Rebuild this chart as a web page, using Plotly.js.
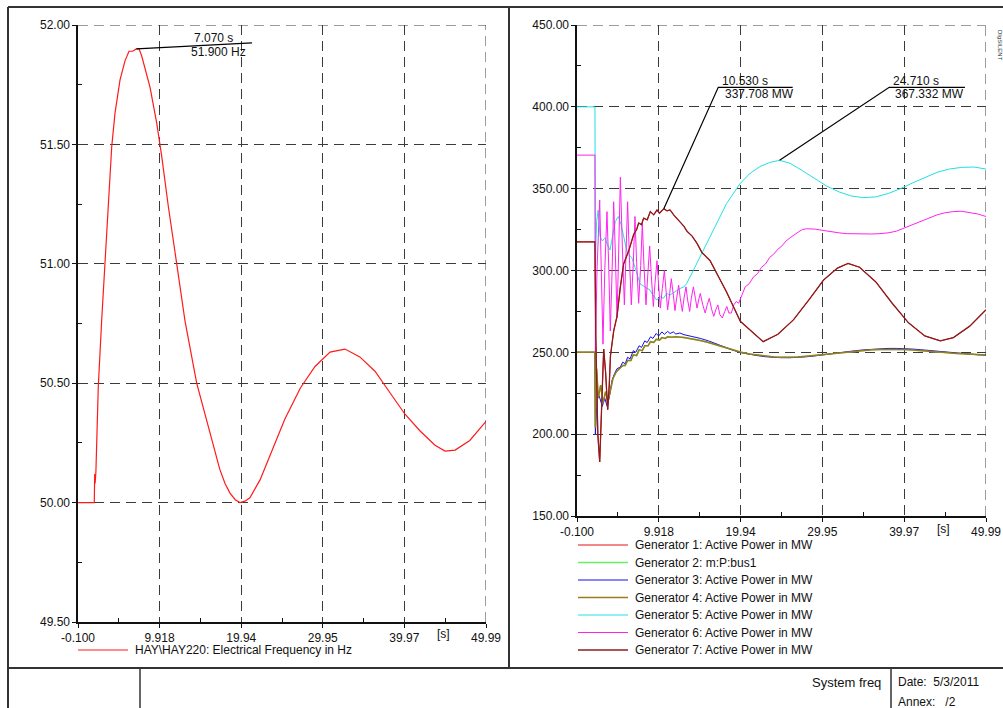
<!DOCTYPE html>
<html><head><meta charset="utf-8">
<script src="https://cdn.plot.ly/plotly-3.0.1.min.js"></script>
<style>html,body{margin:0;padding:0;background:#fff}#chart{width:1003px;height:708px}</style>
</head><body><div id="chart"></div>
<script>
// ---------------- DATA ----------------
const xTickVals = [-0.1, 9.918, 19.94, 29.95, 39.97, 49.99];
const xTickText = ["-0.100", "9.918", "19.94", "29.95", "39.97", "49.99"];
const xMinor = [4.909, 14.929, 24.945, 34.96, 44.98];
const fTickVals = [49.5, 50.0, 50.5, 51.0, 51.5, 52.0];
const fMinor = [49.75, 50.25, 50.75, 51.25, 51.75];
const pTickVals = [150, 200, 250, 300, 350, 400, 450];
const pMinor = [175, 225, 275, 325, 375, 425];

// Frequency (left)
const freqT = [-0.1, 1.9, 1.95, 2.0, 2.1, 2.39, 2.81, 3.21, 3.62, 4.04, 4.44, 5.06, 5.67, 6.16, 6.6, 7.07, 7.4, 7.72, 8.74, 9.56, 10.18, 10.99, 12.02, 13.04, 14.47, 15.49, 16.4, 17.3, 17.95, 18.56, 19.2, 19.79, 20.4, 21.0, 22.25, 23.47, 25.3, 27.2, 29.0, 30.84, 32.68, 34.5, 36.36, 38.2, 40.05, 41.9, 43.73, 44.96, 46.2, 48.0, 49.99];
const freqV = [50.0, 50.0, 50.12, 50.08, 50.13, 50.485, 50.765, 51.0, 51.24, 51.49, 51.63, 51.77, 51.85, 51.89, 51.89, 51.9, 51.9, 51.87, 51.74, 51.59, 51.45, 51.24, 51.0, 50.76, 50.5, 50.37, 50.25, 50.14, 50.08, 50.04, 50.012, 50.0, 50.006, 50.02, 50.095, 50.2, 50.35, 50.48, 50.57, 50.63, 50.643, 50.61, 50.55, 50.46, 50.37, 50.3, 50.24, 50.216, 50.22, 50.26, 50.34];

// Generator 3 (blue)
const g3T = [-0.1, 2.1, 2.15, 2.4, 2.7, 3.0, 3.3, 3.6, 3.9, 4.2, 4.5, 4.8, 5.2, 5.5, 5.8, 6.1, 6.4, 6.8, 7.1, 7.5, 7.8, 8.2, 8.5, 8.9, 9.2, 9.6, 9.9, 10.3, 10.6, 11.0, 11.3, 11.7, 12.0, 12.5, 13, 14, 15, 16, 17, 18, 19, 20, 21, 22, 23, 24, 25, 26, 27, 28, 29, 30, 31, 32, 33, 34, 35, 36, 37, 38, 39, 40, 41, 42, 43, 44, 45, 46, 47, 48, 49, 49.99];
const g3V = [250, 250, 200, 226, 222, 217, 222, 217, 224, 233, 237, 240, 241, 244, 243, 247, 246, 251, 250, 254, 253, 257, 256, 259.5, 258.5, 261.5, 260, 262.5, 261, 262.8, 261.5, 262.5, 261.2, 261.8, 260.8, 259.8, 258.5, 257, 255, 253, 251.3, 249.8, 248.8, 248, 247.3, 246.9, 246.7, 246.7, 246.9, 247.3, 247.8, 248.5, 249.2, 249.8, 250.4, 251, 251.5, 251.9, 252.2, 252.4, 252.4, 252.3, 252, 251.6, 251.1, 250.6, 250.1, 249.6, 249.2, 248.8, 248.5, 248.3];

// Generator 4 (olive)
const g4T = [-0.1, 2.1, 2.15, 2.3, 2.5, 2.8, 3.1, 3.4, 3.7, 4.0, 4.3, 4.7, 5.1, 5.5, 5.8, 6.1, 6.5, 6.8, 7.2, 7.5, 7.9, 8.2, 8.6, 8.9, 9.3, 9.6, 10, 10.3, 10.7, 11, 11.5, 12, 13, 14, 15, 16, 17, 18, 19, 20, 21, 22, 23, 24, 25, 26, 27, 28, 29, 30, 31, 32, 33, 34, 35, 36, 37, 38, 39, 40, 41, 42, 43, 44, 45, 46, 47, 48, 49, 49.99];
const g4V = [250, 250, 204, 240, 222, 230, 219, 226, 220, 228, 234, 238, 240, 242, 242, 245, 245, 248.5, 248, 251.5, 251, 254, 254, 256.5, 256, 258, 257.5, 259, 258.5, 259.5, 259.2, 259.5, 259, 258.3, 257.2, 256, 254.5, 252.8, 251.3, 250, 249, 248.3, 247.6, 247.2, 247, 247, 247.2, 247.6, 248.1, 248.7, 249.3, 249.9, 250.4, 250.9, 251.3, 251.6, 251.8, 251.9, 251.9, 251.8, 251.5, 251.2, 250.8, 250.3, 249.9, 249.5, 249.1, 248.8, 248.5, 248.3];

// Generator 5 (cyan)
const g5T = [-0.1, 2.1, 2.15, 2.3, 2.5, 2.72, 3.0, 3.33, 3.6, 3.94, 4.3, 4.6, 4.96, 5.3, 5.57, 5.9, 6.18, 6.6, 7.0, 7.61, 8.2, 8.84, 9.2, 9.66, 10.1, 10.47, 10.9, 11.29, 11.9, 12.51, 13.0, 13.33, 14.14, 15.37, 16.59, 18.23, 19.86, 21, 22.31, 23.5, 24.71, 26, 27.5, 29, 30.5, 32, 33.5, 35, 36.5, 38, 39.5, 41, 42.5, 44, 45.5, 47, 48.5, 49.99];
const g5V = [400, 400, 306, 330, 337, 321, 318, 320, 316, 312.5, 322, 330, 333, 328, 322, 314, 310, 308, 302, 292, 290, 288, 285, 282, 284, 283, 286, 285, 287, 289, 290, 292, 300, 312.5, 324.7, 341, 353, 359, 363.5, 366, 367.3, 365.5, 361, 356, 351.5, 348, 345.5, 344.5, 345, 347, 350, 353.5, 357, 360, 362, 363, 363.2, 362];

// Generator 6 (magenta)
const g6T = [-0.1, 2.1, 2.15, 2.35, 2.68, 2.9, 3.08, 3.3, 3.57, 3.8, 3.98, 4.2, 4.39, 4.6, 4.8, 5.0, 5.21, 5.45, 5.7, 5.9, 6.1, 6.3, 6.55, 6.8, 7.0, 7.2, 7.45, 7.7, 7.9, 8.1, 8.35, 8.55, 8.8, 9.0, 9.25, 9.45, 9.7, 9.9, 10.1, 10.35, 10.6, 10.8, 11.0, 11.25, 11.45, 11.7, 11.9, 12.1, 12.35, 12.55, 12.8, 13.0, 13.25, 13.45, 13.7, 13.9, 14.15, 14.4, 14.6, 14.8, 15.0, 15.3, 15.6, 15.85, 16.1, 16.4, 16.65, 16.9, 17.15, 17.4, 17.7, 18.0, 18.25, 18.5, 18.8, 19.1, 19.4, 19.7, 20.0, 20.5, 21.0, 21.5, 22, 22.5, 23, 23.5, 24, 24.5, 25, 25.5, 26, 26.5, 27, 27.5, 28, 29, 30, 31, 32, 33, 34, 35, 36, 37, 38, 39, 40, 41, 42, 43, 44, 45, 46, 47, 48, 49, 49.99];
const g6V = [370.5, 370.5, 250, 300, 343, 290, 255, 300, 336, 300, 263, 300, 342, 310, 271, 310, 357, 315, 279, 310, 342, 310, 279, 305, 333, 305, 280, 303, 329, 303, 279, 296, 315, 297, 278, 292, 306, 291, 277, 289, 300, 288, 276, 286, 295, 285, 275.5, 283, 291, 283, 275, 283, 290, 282, 275, 283, 290, 283, 277, 282, 286, 279, 274, 279, 283, 276, 272, 276, 279, 273, 271, 275, 278, 274, 274, 279, 281, 280, 284, 290, 292, 296, 298, 302, 304, 308, 310, 313, 315, 318, 320, 322, 323.5, 325, 325.5, 325.3, 324.5, 323.5, 323, 322.5, 322.3, 322.2, 322.3, 322.5, 323, 324, 326, 328, 330, 332, 334, 335.3, 336, 336.2, 335.5, 334.5, 333];

// Generator 7 (maroon)
const g7T = [-0.1, 2.1, 2.2, 2.45, 2.68, 2.9, 3.17, 3.4, 3.66, 3.85, 4.0, 4.39, 4.8, 5.21, 5.61, 6.23, 6.84, 7.2, 7.45, 7.8, 8.06, 8.5, 8.88, 9.3, 9.7, 10.0, 10.53, 10.92, 11.3, 11.74, 12.1, 12.55, 13.0, 13.37, 14.0, 14.6, 15.2, 16.2, 17.0, 18.2, 19.9, 21.5, 22.7, 24.5, 26.4, 28.3, 30.1, 31.8, 33.1, 34.5, 36.5, 38.5, 40.5, 42.5, 44.4, 46, 48, 49.99];
const g7V = [317.5, 317.5, 260, 200, 183, 215, 252, 238, 215, 230, 248, 263, 272, 290, 304, 312, 322, 325, 329, 328, 332, 331, 336, 334, 337, 335, 337.7, 336.5, 337, 334, 332, 329, 327, 324, 321, 316.6, 311, 306, 298, 287, 269, 262, 256.5, 261, 269.8, 282, 294.2, 301.5, 304.3, 302, 293, 280, 268, 260, 257, 259, 266, 276];

// Generator 1 and 2 lie underneath Generator 7 and Generator 4 respectively
const g1T = g7T, g1V = g7V;
const g2T = g4T, g2V = g4V;

const genNames = ["Generator 1: Active Power in MW", "Generator 2: m:P:bus1", "Generator 3: Active Power in MW", "Generator 4: Active Power in MW", "Generator 5: Active Power in MW", "Generator 6: Active Power in MW", "Generator 7: Active Power in MW"];
const freqName = "HAY\\HAY220: Electrical Frequency in Hz";

// ---------------- STYLE ----------------
const W = 1003, H = 708;
const px = x => x / W, py = y => 1 - y / H;
const FONT = "Liberation Sans, Arial, sans-serif";
const freqColor = "#ff1a1a";
const genColors = ["#e81010", "#66ee66", "#1010f0", "#9e7b1e", "#22e0e0", "#ff22ee", "#8e1c1c"];
const genWidths = [1, 1.5, 1, 1.5, 1, 1, 1.3];
const genT = [g1T, g2T, g3T, g4T, g5T, g6T, g7T];
const genV = [g1V, g2V, g3V, g4V, g5V, g6V, g7V];

const traces = [{
  x: freqT, y: freqV, type: "scatter", mode: "lines", name: freqName,
  line: {color: freqColor, width: 1.2}, xaxis: "x", yaxis: "y", showlegend: false
}];
for (let i = 0; i < 7; i++) {
  traces.push({
    x: genT[i], y: genV[i], type: "scatter", mode: "lines", name: genNames[i],
    line: {color: genColors[i], width: genWidths[i]}, xaxis: "x2", yaxis: "y2", showlegend: false
  });
}

function xAxis(domain, anchor) {
  return {
    domain: domain, anchor: anchor, range: [-0.1, 49.99], tickmode: "array",
    tickvals: xTickVals, ticktext: xTickText, ticks: "outside", ticklen: 4, tickcolor: "#111",
    showgrid: true, gridcolor: "#3a3a3a", gridwidth: 1, griddash: "10px,6px",
    showline: true, linecolor: "#111", linewidth: 1.6, zeroline: false,
    tickfont: {family: FONT, size: 12, color: "#111"},
    minor: {tickvals: xMinor, ticks: "inside", ticklen: 4, tickcolor: "#111", showgrid: false},
    fixedrange: true
  };
}
function yAxis(domain, anchor, range, vals, minor) {
  return {
    domain: domain, anchor: anchor, range: range, tickmode: "array",
    tickvals: vals, ticktext: vals.map(v => v.toFixed(2)), ticks: "outside", ticklen: 4, tickcolor: "#111",
    showgrid: true, gridcolor: "#3a3a3a", gridwidth: 1, griddash: "10px,6px",
    showline: true, linecolor: "#111", linewidth: 1.6, zeroline: false,
    tickfont: {family: FONT, size: 12, color: "#111"},
    minor: {tickvals: minor, ticks: "inside", ticklen: 4, tickcolor: "#111", showgrid: false},
    fixedrange: true
  };
}

const frame = {type: "line", xref: "paper", yref: "paper", line: {color: "#333", width: 2}};
const edge = {type: "line", line: {color: "#3a3a3a", width: 1, dash: "10px,6px"}};
const shapes = [
  Object.assign({}, frame, {x0: px(8), x1: px(8), y0: py(7), y1: py(712)}),
  Object.assign({}, frame, {x0: px(8), x1: px(1010), y0: py(7), y1: py(7)}),
  Object.assign({}, frame, {x0: px(509), x1: px(509), y0: py(7), y1: py(668)}),
  Object.assign({}, frame, {x0: px(8), x1: px(1010), y0: py(668), y1: py(668)}),
  Object.assign({}, frame, {x0: px(140), x1: px(140), y0: py(668), y1: py(712), line: {color: "#333", width: 1.5}}),
  Object.assign({}, frame, {x0: px(891), x1: px(891), y0: py(668), y1: py(712), line: {color: "#333", width: 1.5}}),
  // dashed plot-area edges (top / right) at the end ticks
  Object.assign({}, edge, {xref: "x domain", yref: "y", x0: 0, x1: 1, y0: 52, y1: 52}),
  Object.assign({}, edge, {xref: "x", yref: "y domain", x0: 49.99, x1: 49.99, y0: 0, y1: 1}),
  Object.assign({}, edge, {xref: "x2 domain", yref: "y2", x0: 0, x1: 1, y0: 450, y1: 450}),
  Object.assign({}, edge, {xref: "x2", yref: "y2 domain", x0: 49.99, x1: 49.99, y0: 0, y1: 1}),
  // marker callouts
  {type: "path", xref: "x", yref: "y", path: "M 7.07,51.9 L 21.26,51.925", line: {color: "#000", width: 1.2}},
  {type: "path", xref: "x2", yref: "y2", path: "M 10.53,337.7 L 17.2,411.9 L 26.31,411.9", line: {color: "#000", width: 1.2}},
  {type: "path", xref: "x2", yref: "y2", path: "M 24.71,367.3 L 38.14,411.9 L 47.41,411.9", line: {color: "#000", width: 1.2}}
];

const tf = {family: FONT, size: 12, color: "#111"};
const annotations = [
  {xref: "x", yref: "y", x: 16.5, y: 51.946, text: "7.070 s", showarrow: false, font: tf, xanchor: "center", yanchor: "middle"},
  {xref: "x", yref: "y", x: 17.2, y: 51.887, text: "51.900 Hz", showarrow: false, font: tf, xanchor: "center", yanchor: "middle"},
  {xref: "x2", yref: "y2", x: 17.4, y: 415.8, text: "10.530 s", showarrow: false, font: tf, xanchor: "left", yanchor: "middle"},
  {xref: "x2", yref: "y2", x: 17.75, y: 408.0, text: "337.708 MW", showarrow: false, font: tf, xanchor: "left", yanchor: "middle"},
  {xref: "x2", yref: "y2", x: 38.3, y: 415.8, text: "24.710 s", showarrow: false, font: tf, xanchor: "left", yanchor: "middle"},
  {xref: "x2", yref: "y2", x: 38.65, y: 408.0, text: "367.332 MW", showarrow: false, font: tf, xanchor: "left", yanchor: "middle"},
  {xref: "x", yref: "paper", x: 44.8, y: py(634), text: "[s]", showarrow: false, font: tf, xanchor: "center", yanchor: "middle"},
  {xref: "x2", yref: "paper", x: 44.8, y: py(529), text: "[s]", showarrow: false, font: tf, xanchor: "center", yanchor: "middle"},
  {xref: "paper", yref: "paper", x: px(883), y: py(682), text: "System freq", showarrow: false, font: {family: FONT, size: 13, color: "#111"}, xanchor: "right", yanchor: "middle"},
  {xref: "paper", yref: "paper", x: px(896), y: py(682), text: "Date:  5/3/2011", showarrow: false, font: tf, xanchor: "left", yanchor: "middle"},
  {xref: "paper", yref: "paper", x: px(896), y: py(702), text: "Annex:   /2", showarrow: false, font: tf, xanchor: "left", yanchor: "middle"},
  {xref: "paper", yref: "paper", x: px(1000), y: py(45), text: "DIgSILENT", textangle: 90, showarrow: false, font: {family: FONT, size: 6, color: "#333"}, xanchor: "center", yanchor: "middle"}
];

// Legends (one per panel), built from the series names and colours
function addLegendRow(name, color, width, xLine0, xLine1, xText, y) {
  shapes.push({type: "line", xref: "paper", yref: "paper", x0: px(xLine0), x1: px(xLine1), y0: py(y), y1: py(y), line: {color: color, width: width}});
  annotations.push({xref: "paper", yref: "paper", x: px(xText), y: py(y), text: name, showarrow: false, font: tf, xanchor: "left", yanchor: "middle"});
}
addLegendRow(freqName.replace(/\\/g, "&#92;"), freqColor, 1, 78, 128, 133, 650);
const legendRowsY = [545, 562.5, 580, 597.5, 615, 632.5, 650];
for (let i = 0; i < 7; i++) {
  addLegendRow(genNames[i], genColors[i], genWidths[i], 578, 628, 633, legendRowsY[i]);
}

const layout = {
  width: W, height: H, margin: {l: 0, r: 0, t: 0, b: 0},
  paper_bgcolor: "#fff", plot_bgcolor: "#fff",
  font: {family: FONT, size: 12, color: "#111"},
  xaxis: xAxis([px(78), px(486)], "y"),
  yaxis: yAxis([py(622), py(25)], "x", [49.5, 52.0], fTickVals, fMinor),
  xaxis2: xAxis([px(577), px(986)], "y2"),
  yaxis2: yAxis([py(516), py(25)], "x2", [150, 450], pTickVals, pMinor),
  showlegend: false,
  shapes: shapes, annotations: annotations
};

Plotly.newPlot("chart", traces, layout, {staticPlot: true, displayModeBar: false});
</script>
</body></html>
